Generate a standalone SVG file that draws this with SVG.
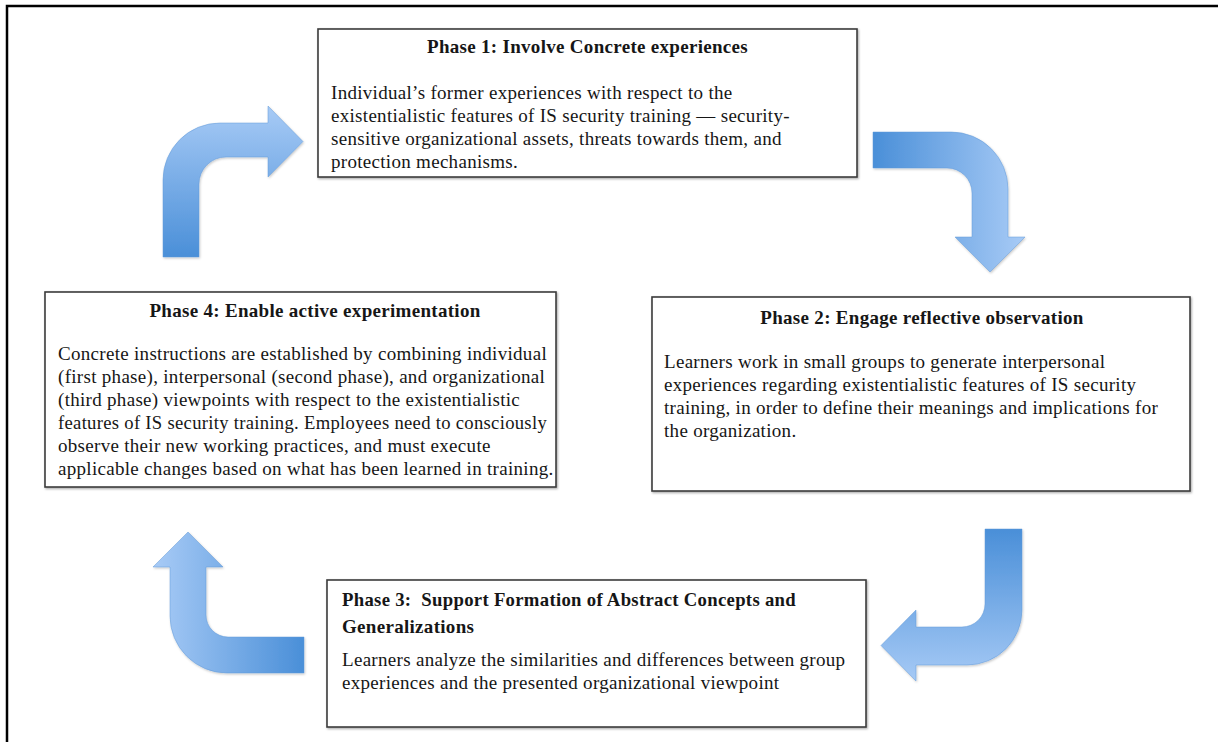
<svg xmlns="http://www.w3.org/2000/svg" width="1218" height="742" viewBox="0 0 1218 742">
<style>
.box{fill:#ffffff;stroke:#3c3c3c;stroke-width:1.6;filter:url(#sh);}
.t{font-family:"Liberation Serif","Times New Roman",serif;font-size:19px;fill:#161616;letter-spacing:0.3px;}
.b{font-weight:bold;}
.mid{text-anchor:middle;}
.arr{stroke:#5f98d8;stroke-width:0.8;stroke-opacity:0.6;filter:url(#ash);}
</style>
<defs>
<filter id="sh" x="-5%" y="-5%" width="110%" height="115%">
<feDropShadow dx="1" dy="1.2" stdDeviation="0.8" flood-color="#000" flood-opacity="0.35"/>
</filter>
<filter id="ash" x="-10%" y="-10%" width="120%" height="120%">
<feDropShadow dx="0.8" dy="1.2" stdDeviation="1.2" flood-color="#000" flood-opacity="0.22"/>
</filter>
<linearGradient id="g1" gradientUnits="userSpaceOnUse" x1="0" y1="257" x2="0" y2="110">
<stop offset="0" stop-color="#4a8fd8"/>
<stop offset="1" stop-color="#a5c9f5"/>
</linearGradient>
<linearGradient id="g2" gradientUnits="userSpaceOnUse" x1="873" y1="0" x2="1020" y2="0">
<stop offset="0" stop-color="#4a8fd8"/>
<stop offset="1" stop-color="#a5c9f5"/>
</linearGradient>
<linearGradient id="g3" gradientUnits="userSpaceOnUse" x1="0" y1="529" x2="0" y2="680">
<stop offset="0" stop-color="#4a8fd8"/>
<stop offset="1" stop-color="#a5c9f5"/>
</linearGradient>
<linearGradient id="g4" gradientUnits="userSpaceOnUse" x1="304" y1="0" x2="158" y2="0">
<stop offset="0" stop-color="#4a8fd8"/>
<stop offset="1" stop-color="#a5c9f5"/>
</linearGradient>
</defs>

<path d="M7,742 V6 H1218" fill="none" stroke="#000" stroke-width="2.5"/>

<g id="connectors">
<path class="arr" fill="url(#g1)" d="M163,257 L163,180 A57,57 0 0 1 220,123 L268,123 L268,106 L303,141.5 L268,177 L268,157 L226,157 A27,27 0 0 0 199,184 L199,257 Z"/>
<path class="arr" fill="url(#g2)" d="M873,132 L951,132 A57,57 0 0 1 1008,189 L1008,237 L1025,237 L990,272 L955,237 L972,237 L972,193 A25,25 0 0 0 947,168 L873,168 Z"/>
<path class="arr" fill="url(#g3)" d="M985,529 L1022,529 L1022,610 A55,55 0 0 1 967,665 L916,665 L916,681 L881,645.5 L916,610 L916,627 L962,627 A23,23 0 0 0 985,604 Z"/>
<path class="arr" fill="url(#g4)" d="M304,637 L304,673 L227,673 A57,57 0 0 1 170,616 L170,567 L153,567 L188,532 L223,567 L206,567 L206,615 A22,22 0 0 0 228,637 Z"/>
</g>

<g id="phase1">
<rect class="box" x="318" y="29" width="539" height="148"/>
<text class="t b mid" x="587.5" y="53">Phase 1: Involve Concrete experiences</text>
<text class="t" x="331" y="99">Individual’s former experiences with respect to the</text>
<text class="t" x="331" y="122">existentialistic features of IS security training — security-</text>
<text class="t" x="331" y="145">sensitive organizational assets, threats towards them, and</text>
<text class="t" x="331" y="168">protection mechanisms.</text>
</g>

<g id="phase2">
<rect class="box" x="652" y="297" width="538" height="194"/>
<text class="t b mid" x="922" y="324">Phase 2: Engage reflective observation</text>
<text class="t" x="664" y="368">Learners work in small groups to generate interpersonal</text>
<text class="t" x="664" y="391">experiences regarding existentialistic features of IS security</text>
<text class="t" x="664" y="414">training, in order to define their meanings and implications for</text>
<text class="t" x="664" y="437">the organization.</text>
</g>

<g id="phase3">
<rect class="box" x="327" y="580" width="539" height="147"/>
<text class="t b" x="342" y="606" textLength="454" lengthAdjust="spacingAndGlyphs">Phase 3:&#160; Support Formation of Abstract Concepts and</text>
<text class="t b" x="342" y="633">Generalizations</text>
<text class="t" x="342" y="666">Learners analyze the similarities and differences between group</text>
<text class="t" x="342" y="689">experiences and the presented organizational viewpoint</text>
</g>

<g id="phase4">
<rect class="box" x="45" y="292" width="511" height="195"/>
<text class="t b mid" x="315" y="317">Phase 4: Enable active experimentation</text>
<text class="t" x="58" y="360">Concrete instructions are established by combining individual</text>
<text class="t" x="58" y="383">(first phase), interpersonal (second phase), and organizational</text>
<text class="t" x="58" y="406">(third phase) viewpoints with respect to the existentialistic</text>
<text class="t" x="58" y="429" textLength="489" lengthAdjust="spacingAndGlyphs">features of IS security training. Employees need to consciously</text>
<text class="t" x="58" y="452">observe their new working practices, and must execute</text>
<text class="t" x="58" y="475">applicable changes based on what has been learned in training.</text>
</g>
</svg>
